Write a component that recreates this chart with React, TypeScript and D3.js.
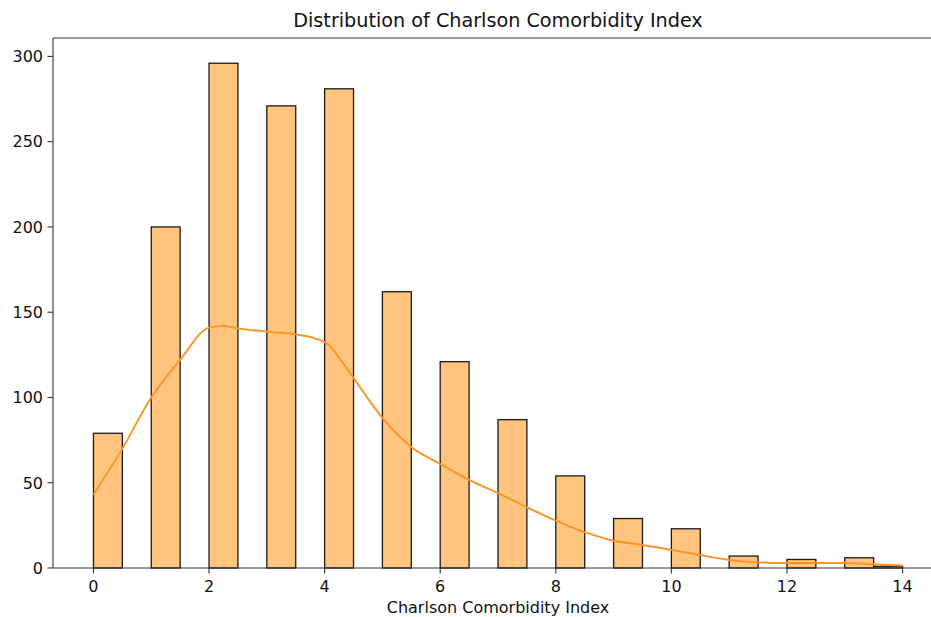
import React from 'react';
import * as d3 from 'd3';

// histogram bins (left edge, 0.5 wide) and counts
const binStarts = [0, 0.5, 1, 1.5, 2, 2.5, 3, 3.5, 4, 4.5, 5, 5.5, 6, 6.5, 7, 7.5, 8, 8.5, 9, 9.5, 10, 10.5, 11, 11.5, 12, 12.5, 13, 13.5];
const counts = [79, 0, 200, 0, 296, 0, 271, 0, 281, 0, 162, 0, 121, 0, 87, 0, 54, 0, 29, 0, 23, 0, 7, 0, 5, 0, 6, 1];
const binWidth = 0.5;

// kde curve
const kdeX = [0, 0.5, 1, 1.5, 2, 2.25, 2.5, 3, 3.5, 3.8, 4.1, 4.3, 4.5, 5, 5.5, 6, 6.5, 7, 7.5, 8, 8.5, 9, 9.5, 10, 10.5, 11, 11.5, 12, 12.5, 13, 13.5, 14];
const kdeY = [43, 70, 100, 122, 141, 142, 140.5, 138.7, 137, 135, 130, 121, 111.5, 88, 71, 61, 51.7, 43.9, 35.6, 27.8, 21, 16, 13.5, 10.6, 7.6, 4.7, 3.3, 2.9, 2.9, 2.9, 2.2, 1.4];

const xTicks = [0, 2, 4, 6, 8, 10, 12, 14];
const yTicks = [0, 50, 100, 150, 200, 250, 300];

const W = 931;
const H = 617;
const left = 53, top = 38, right = 943, bottom = 568;
const font = 'DejaVu Sans, sans-serif';

const App = () => {
  const x = d3.scaleLinear().domain([-0.7, 14.7]).range([left, right]);
  const y = d3.scaleLinear().domain([0, 296 * 1.05]).range([bottom, top]);

  const kdeLine = d3.line<number>()
    .x((d, i) => x(kdeX[i]))
    .y((d) => y(d))
    .curve(d3.curveMonotoneX);

  return (
    <svg width={W} height={H} style={{ display: 'block', position: 'absolute', left: 0, top: 0 }} fontFamily={font}>
      <rect width={W} height={H} fill="#fff" />
      {binStarts.map((b, i) => counts[i] > 0 && (
        <rect
          key={i}
          x={x(b)}
          y={y(counts[i])}
          width={x(b + binWidth) - x(b)}
          height={y(0) - y(counts[i])}
          fill="#ffc57f"
          stroke="#1a1a1a"
          strokeWidth={1.3}
        />
      ))}
      <path d={kdeLine(kdeY) || ''} fill="none" stroke="#ff9326" strokeWidth={1.9} />

      {/* spines */}
      <line x1={left} x2={left} y1={top} y2={bottom} stroke="#333" strokeWidth={1.1} />
      <line x1={left} x2={right} y1={bottom} y2={bottom} stroke="#333" strokeWidth={1.1} />
      <line x1={left} x2={right} y1={top} y2={top} stroke="#333" strokeWidth={1.1} />

      {yTicks.map((t) => (
        <g key={t} transform={`translate(0,${y(t)})`}>
          <line x1={left - 5.5} x2={left} stroke="#333" strokeWidth={1.1} />
          <text x={left - 10} dy="0.36em" textAnchor="end" fontSize={16} fill="#111">{t}</text>
        </g>
      ))}
      {xTicks.map((t) => (
        <g key={t} transform={`translate(${x(t)},0)`}>
          <line y1={bottom} y2={bottom + 5.5} stroke="#333" strokeWidth={1.1} />
          <text y={bottom + 24} textAnchor="middle" fontSize={16} fill="#111">{t}</text>
        </g>
      ))}

      <text x={(left + right) / 2} y={613} textAnchor="middle" fontSize={16} fill="#111">Charlson Comorbidity Index</text>
      <text x={(left + right) / 2} y={27} textAnchor="middle" fontSize={19.2} fill="#111">Distribution of Charlson Comorbidity Index</text>
    </svg>
  );
};

export default App;
